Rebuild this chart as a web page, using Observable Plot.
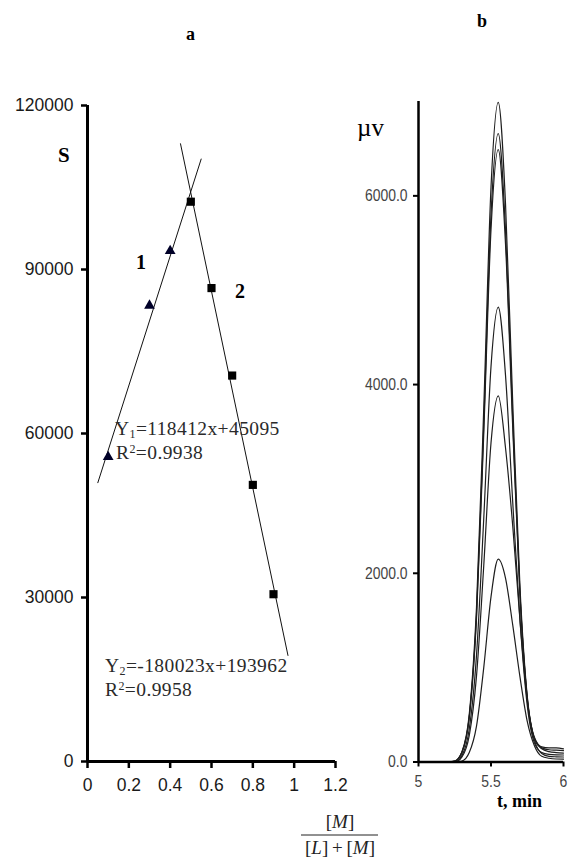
<!DOCTYPE html>
<html><head><meta charset="utf-8">
<script src="https://cdn.jsdelivr.net/npm/d3@7"></script>
<script src="https://cdn.jsdelivr.net/npm/@observablehq/plot@0.6"></script>
<style>
body{margin:0;background:#fff}
#wrap{position:relative;width:568px;height:859px;overflow:hidden;background:#fff}
</style></head>
<body>
<div id="wrap"><div id="chartA" style="position:absolute;left:0;top:0"></div><div id="chartB" style="position:absolute;left:340px;top:0"></div></div>
<script>
// ---------- panel a: Job's plot ----------
const ratio1 = [0.1, 0.3, 0.4];
const signal1 = [55700, 83400, 93400];
const ratio2 = [0.5, 0.6, 0.7, 0.8, 0.9];
const signal2 = [102400, 86600, 70600, 50600, 30600];
const fit1X = [0.05, 0.55];
const fit1Y = [51000, 110200];
const fit2X = [0.45, 0.97];
const fit2Y = [113000, 19400];
const xTicksA = [0, 0.2, 0.4, 0.6, 0.8, 1, 1.2];
const yTicksA = [0, 30000, 60000, 90000, 120000];

// ---------- panel b: chromatograms ----------
const timeMin = [5.0, 5.2, 5.25, 5.3, 5.35, 5.4, 5.45, 5.5, 5.55, 5.6, 5.65, 5.7, 5.75, 5.8, 5.85, 5.9, 5.95, 6.0];
const trace1 = [0, 0, 10, 110, 505, 1640, 3750, 6090, 6990, 5920, 3800, 1850, 700, 260, 160, 150, 150, 140];
const trace2 = [0, 0, 10, 105, 480, 1560, 3570, 5800, 6660, 5640, 3620, 1780, 680, 250, 150, 130, 125, 120];
const trace3 = [0, 0, 9, 100, 470, 1520, 3480, 5640, 6490, 5490, 3540, 1760, 670, 240, 140, 110, 100, 95];
const trace4 = [0, 0, 0, 70, 350, 1130, 2580, 4190, 4820, 4100, 2750, 1500, 600, 200, 100, 80, 75, 74];
const trace5 = [0, 0, 0, 55, 280, 910, 2080, 3380, 3880, 3330, 2500, 1500, 650, 230, 90, 60, 55, 53];
const trace6 = [0, 0, 0, 10, 100, 380, 1000, 1750, 2150, 1950, 1450, 900, 430, 170, 60, 40, 32, 30];
const xTicksB = [5, 5.5, 6];
const yTicksB = [0, 2000, 4000, 6000];

const pts1 = ratio1.map((x, i) => ({x, y: signal1[i]}));
const pts2 = ratio2.map((x, i) => ({x, y: signal2[i]}));
const fit1 = fit1X.map((x, i) => ({x, y: fit1Y[i]}));
const fit2 = fit2X.map((x, i) => ({x, y: fit2Y[i]}));

const chartA = Plot.plot({
  width: 400, height: 859,
  marginLeft: 87, marginRight: 65, marginTop: 105, marginBottom: 98,
  x: {domain: [0, 1.2]},
  y: {domain: [0, 120000]},
  style: {fontFamily: "'Liberation Sans', Arial, sans-serif", fontSize: "17.5px", color: "#1a1a1a", background: "transparent", overflow: "visible"},
  marks: [
    Plot.axisX({ticks: xTicksA, tickSize: 7, tickPadding: 10, stroke: "#000", strokeWidth: 2.5, tickFormat: d => String(d), label: null}),
    Plot.axisY({ticks: yTicksA, tickSize: 6, tickPadding: 8, stroke: "#000", strokeWidth: 2.5, tickFormat: d => String(d), label: null}),
    Plot.ruleX([0], {stroke: "#000", strokeWidth: 3}),
    Plot.ruleY([0], {stroke: "#000", strokeWidth: 3}),
    Plot.line(fit1, {x: "x", y: "y", stroke: "#111", strokeWidth: 1}),
    Plot.line(fit2, {x: "x", y: "y", stroke: "#111", strokeWidth: 1}),
    Plot.dot(pts2, {x: "x", y: "y", symbol: "square", r: 4.6, fill: "#000", stroke: "none"}),
    Plot.dot(pts1, {x: "x", y: "y", symbol: "triangle", r: 4, fill: "#000028", stroke: "none"})
  ]
});
document.getElementById("chartA").appendChild(chartA);

const traces = [trace1, trace2, trace3, trace4, trace5, trace6];
const rows = [];
traces.forEach((tr, k) => tr.forEach((v, j) => rows.push({t: timeMin[j], v, k})));

const chartB = Plot.plot({
  width: 228, height: 859,
  marginLeft: 78, marginRight: 5, marginTop: 101, marginBottom: 97.5,
  x: {domain: [5, 6]},
  y: {domain: [0, 7000]},
  style: {fontFamily: "'Liberation Sans', Arial, sans-serif", fontSize: "17px", color: "#444", background: "transparent", overflow: "visible"},
  marks: [
    Plot.axisX({ticks: xTicksB, tickSize: 5, tickPadding: 8, stroke: "#000", strokeWidth: 2, tickFormat: d => String(d), label: null}),
    Plot.axisY({ticks: yTicksB, tickSize: 5, tickPadding: 6, stroke: "#000", strokeWidth: 2, tickFormat: d3.format(".1f"), label: null}),
    Plot.line(rows, {x: "t", y: "v", z: "k", curve: "monotone-x", stroke: "#1e1e1e", strokeWidth: 1.2}),
    Plot.ruleX([5], {stroke: "#000", strokeWidth: 2.5}),
    Plot.ruleY([0], {stroke: "#000", strokeWidth: 2.5})
  ]
});
document.getElementById("chartB").appendChild(chartB);
// condensed look of the chromatogram tick labels
chartB.querySelectorAll("g[aria-label='x-axis tick label'] text, g[aria-label='y-axis tick label'] text").forEach(t => {
  const w = t.getComputedTextLength();
  if (w > 0) { t.setAttribute("textLength", (w * 0.82).toFixed(1)); t.setAttribute("lengthAdjust", "spacingAndGlyphs"); }
});

// ---------- annotations ----------
const NS = "http://www.w3.org/2000/svg";
const notes = document.createElementNS(NS, "svg");
notes.setAttribute("width", 568);
notes.setAttribute("height", 859);
notes.style.position = "absolute";
notes.style.left = "0"; notes.style.top = "0";
notes.innerHTML = `
<g font-family="'Liberation Serif','Times New Roman',serif">
  <text x="186" y="40" font-size="18" font-weight="bold">a</text>
  <text x="477" y="27" font-size="18" font-weight="bold">b</text>
  <text x="58" y="162" font-size="21" font-weight="bold">S</text>
  <text x="136" y="269" font-size="20" font-weight="bold">1</text>
  <text x="235" y="298" font-size="20" font-weight="bold">2</text>
  <text x="357" y="136" font-size="25">µv</text>
  <text x="497" y="807" font-size="18" font-weight="bold">t, min</text>
  <g font-size="19.5" fill="#2a2a2a" letter-spacing="0.4">
    <text x="115" y="435">Y<tspan font-size="12" dy="3">1</tspan><tspan dy="-3">=118412x+45095</tspan></text>
    <text x="116" y="459">R<tspan font-size="12" dy="-6">2</tspan><tspan dy="6">=0.9938</tspan></text>
    <text x="105" y="672">Y<tspan font-size="12" dy="3">2</tspan><tspan dy="-3">=-180023x+193962</tspan></text>
    <text x="105" y="696">R<tspan font-size="12" dy="-6">2</tspan><tspan dy="6">=0.9958</tspan></text>
  </g>
  <g font-size="19" text-anchor="middle" fill="#222">
    <text x="340" y="828">[<tspan font-style="italic">M</tspan>]</text>
    <line x1="301" x2="378" y1="835" y2="835" stroke="#222" stroke-width="1"/>
    <text x="340" y="854">[<tspan font-style="italic">L</tspan>]\u2009+\u2009[<tspan font-style="italic">M</tspan>]</text>
  </g>
</g>`;
document.getElementById("wrap").appendChild(notes);
</script>
</body></html>
